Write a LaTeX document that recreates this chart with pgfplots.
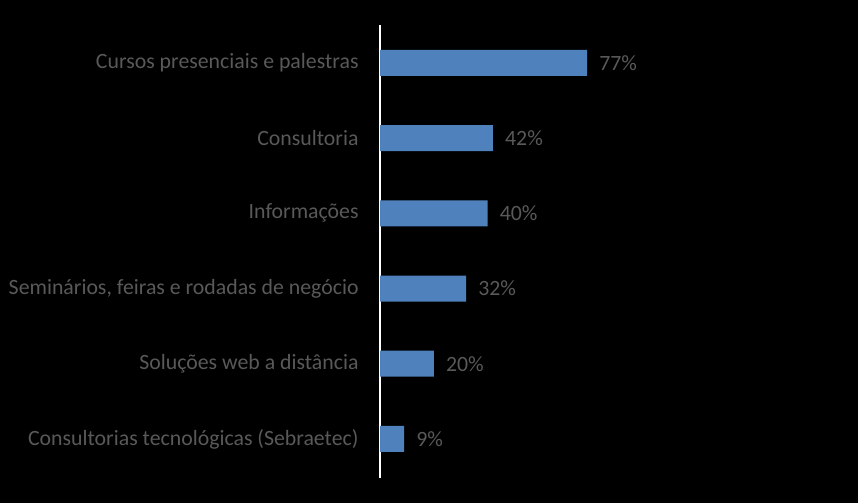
\documentclass[border=0pt]{standalone}
\usepackage{pgfplots}
\pgfplotsset{compat=1.18}
\usepackage{fontspec}
\setmainfont{Carlito}
\definecolor{barblue}{HTML}{4F81BD}
\definecolor{lbl}{HTML}{595959}
\begin{document}
\begin{tikzpicture}
\useasboundingbox[fill=black] (0,0) rectangle (858bp,503bp);
\begin{axis}[at={(380bp,25bp)}, anchor=south west, scale only axis,
  width=269bp, height=453bp,
  xbar, bar width=26bp, xmin=0, xmax=100, ymin=-0.52, ymax=5.505,
  ytick={0,...,5},
  yticklabels={Consultorias tecnológicas (Sebraetec), Soluções web a distância, {Seminários, feiras e rodadas de negócio}, Informações, Consultoria, Cursos presenciais e palestras},
  hide x axis, axis y line*=left,
  y axis line style={white, line width=1.5bp, -},
  ytick style={draw=none},
  /pgf/number format/assume math mode=true,
  yticklabel style={font=\fontsize{21.8bp}{24bp}\selectfont, text=lbl, inner sep=0pt, xshift=-17bp},
  nodes near coords={\pgfmathprintnumber{\pgfplotspointmeta}\%},
  nodes near coords style={font=\fontsize{21.8bp}{24bp}\selectfont, text=lbl, inner sep=0pt, xshift=12bp},
  point meta=x, clip=false]
\addplot[fill=barblue, draw=none] coordinates {(9,0) (20,1) (32,2) (40,3) (42,4) (77,5)};
\end{axis}
\end{tikzpicture}
\end{document}
